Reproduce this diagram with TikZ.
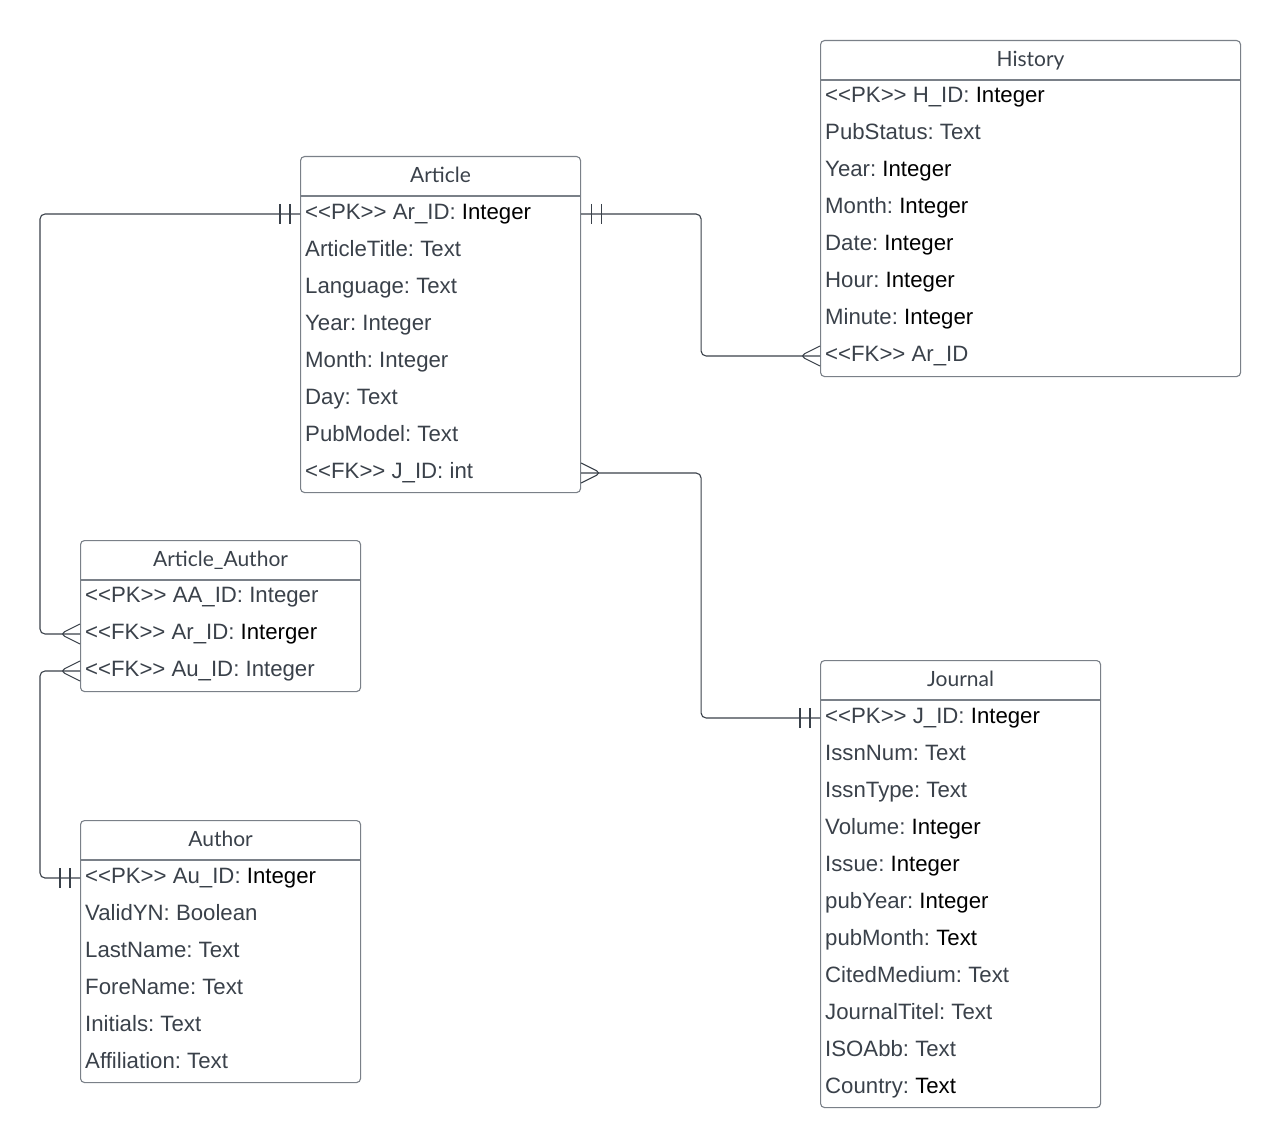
\documentclass[tikz,border=0pt]{standalone}
\usepackage{fontspec}
\newfontfamily\fieldfont[Ligatures=TeXOff]{Liberation Sans}
\newfontfamily\titlefont{Lato}
\definecolor{txtgray}{HTML}{3A414A}
\definecolor{boxgray}{HTML}{7A8088}
\definecolor{linegray}{HTML}{3A414A}
\frenchspacing

\newcommand{\blk}[1]{\textcolor{black}{#1}}

% table frame with a header line and its title
\newcommand{\ertable}[6]{%
  \node[tbl, minimum width=#4pt, minimum height=#5pt] (#1) at (#2,#3) {};
  \draw[sepline] ([yshift=-40pt]#1.north west) -- ([yshift=-40pt]#1.north east);
  \node[ttl] (#1-t) at ([yshift=-26.5pt]#1.north) {#6};
}
% field rows, 37pt apart
\newcommand{\erfields}[4]{%
  \foreach \f [count=\i] in {#4}
    \node[fld] (#1-\i) at (#2+5, #3+37*\i-37) {\f};
}
% crow's foot (many) and double bar (one and only one)
\newcommand{\crowfoot}[2]{%
  \draw[rel] ([yshift=10pt]#1) -- ([xshift=#2*20pt]#1) -- ([yshift=-10pt]#1);
}
\newcommand{\onlyone}[2]{%
  \draw[rel] ([xshift=#2*10pt, yshift=10pt]#1) -- ([xshift=#2*10pt, yshift=-10pt]#1);
  \draw[rel] ([xshift=#2*20pt, yshift=10pt]#1) -- ([xshift=#2*20pt, yshift=-10pt]#1);
}

\begin{document}
\begin{tikzpicture}[x=1pt, y=-1pt,
    tbl/.style={draw=boxgray, line width=1.1pt, rounded corners=4pt,
                anchor=north west, inner sep=0pt},
    sepline/.style={draw=boxgray, line width=1.1pt},
    ttl/.style={font=\titlefont\fontsize{21}{25}\selectfont, text=txtgray,
                anchor=base, inner sep=0pt},
    fld/.style={font=\fieldfont\fontsize{22.2}{26}\selectfont, text=txtgray,
                anchor=west, inner sep=0pt, text height=15pt, text depth=4pt},
    rel/.style={draw=linegray, line width=1.1pt, rounded corners=5pt}]

\useasboundingbox (0,0) rectangle (1281,1147);

\ertable{his}{820}{40}{420}{336}{History}
\erfields{his}{820}{97}{<<PK>> H\_ID: \blk{Integer}, PubStatus: Text,
  Year: \blk{Integer}, Month: \blk{Integer}, Date: \blk{Integer},
  Hour: \blk{Integer}, Minute: \blk{Integer}, <<FK>> Ar\_ID}

\ertable{art}{300}{156}{280}{336}{Article}
\erfields{art}{300}{214}{<<PK>> Ar\_ID: \blk{Integer}, ArticleTitle: Text,
  Language: Text, Year: Integer, Month: Integer, Day: Text,
  PubModel: Text, <<FK>> J\_ID: int}

\ertable{aa}{80}{540}{280}{151}{Article\_Author}
\erfields{aa}{80}{597}{<<PK>> AA\_ID: Integer, <<FK>> Ar\_ID: \blk{Interger},
  <<FK>> Au\_ID: Integer}

\ertable{au}{80}{820}{280}{262}{Author}
\erfields{au}{80}{878}{<<PK>> Au\_ID: \blk{Integer}, ValidYN: Boolean,
  LastName: Text, ForeName: Text, Initials: Text, Affiliation: Text}

\ertable{jn}{820}{660}{280}{447}{Journal}
\erfields{jn}{820}{718}{<<PK>> J\_ID: \blk{Integer}, IssnNum: Text,
  IssnType: Text, Volume: \blk{Integer}, Issue: \blk{Integer},
  pubYear: \blk{Integer}, pubMonth: \blk{Text}, CitedMedium: Text,
  JournalTitel: Text, ISOAbb: Text, Country: \blk{Text}}

% attachment points on the table edges
\coordinate (art-l1) at (art.west |- art-1.west);
\coordinate (art-r1) at (art.east |- art-1.west);
\coordinate (art-r8) at (art.east |- art-8.west);
\coordinate (his-l8) at (his.west |- his-8.west);
\coordinate (aa-l2) at (aa.west |- aa-2.west);
\coordinate (aa-l3) at (aa.west |- aa-3.west);
\coordinate (au-l1) at (au.west |- au-1.west);
\coordinate (jn-l1) at (jn.west |- jn-1.west);

% relations
\draw[rel] (art-l1) -| ([xshift=-40pt]aa.west) |- (aa-l2);
\draw[rel] (art-r1) -| ([xshift=120pt]art.east) |- (his-l8);
\draw[rel] (art-r8) -| ([xshift=120pt]art.south east) |- (jn-l1);
\draw[rel] (aa-l3) -| ([xshift=-40pt]au.north west) |- (au-l1);

\onlyone{art-l1}{-1}
\crowfoot{aa-l2}{-1}
\onlyone{art-r1}{1}
\crowfoot{his-l8}{-1}
\crowfoot{art-r8}{1}
\onlyone{jn-l1}{-1}
\crowfoot{aa-l3}{-1}
\onlyone{au-l1}{-1}

\end{tikzpicture}
\end{document}
